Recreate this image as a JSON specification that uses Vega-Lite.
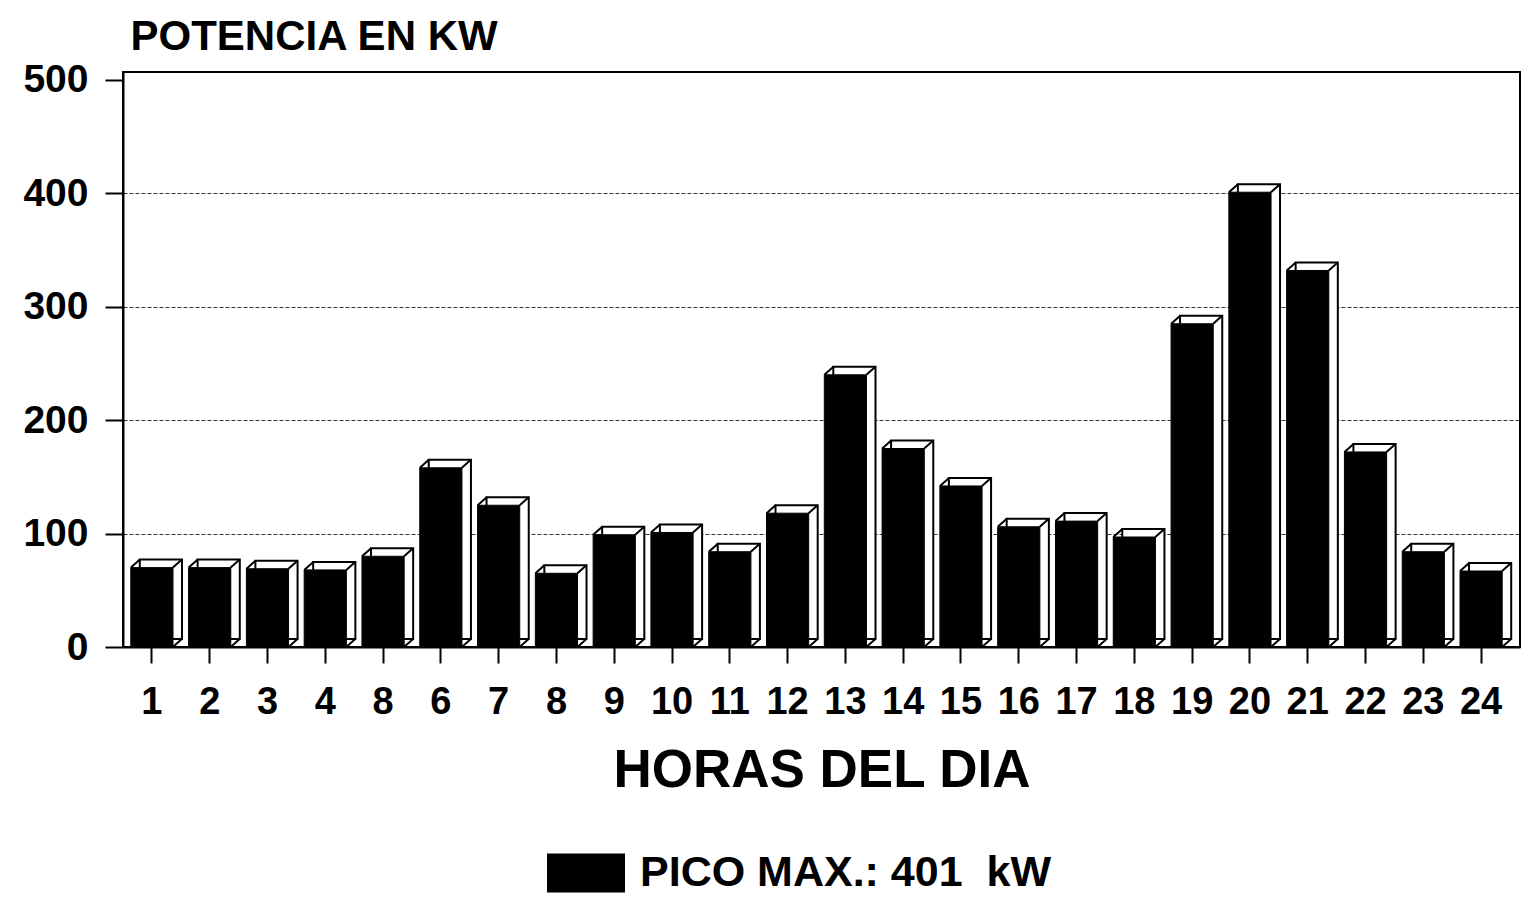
{
  "$schema": "https://vega.github.io/schema/vega-lite/v6.json",
  "width": 1397,
  "height": 575,
  "autosize": {"type": "none"},
  "padding": {"left": 123, "top": 72, "right": 7, "bottom": 254},
  "background": "white",
  "config": {
    "view": {"stroke": "black", "strokeWidth": 2},
    "font": "Liberation Sans"
  },
  "data": {
    "values": [
      {"hora": 1, "kw": 70}, {"hora": 2, "kw": 70}, {"hora": 3, "kw": 69}, {"hora": 4, "kw": 68},
      {"hora": 5, "kw": 80}, {"hora": 6, "kw": 158}, {"hora": 7, "kw": 125}, {"hora": 8, "kw": 65},
      {"hora": 9, "kw": 99}, {"hora": 10, "kw": 101}, {"hora": 11, "kw": 84}, {"hora": 12, "kw": 118},
      {"hora": 13, "kw": 240}, {"hora": 14, "kw": 175}, {"hora": 15, "kw": 142}, {"hora": 16, "kw": 106},
      {"hora": 17, "kw": 111}, {"hora": 18, "kw": 97}, {"hora": 19, "kw": 285}, {"hora": 20, "kw": 401},
      {"hora": 21, "kw": 332}, {"hora": 22, "kw": 172}, {"hora": 23, "kw": 84}, {"hora": 24, "kw": 67}
    ]
  },
  "encoding": {
    "x": {
      "field": "hora",
      "type": "ordinal",
      "scale": {"paddingInner": 0, "paddingOuter": 0.0865, "align": 0},
      "axis": {
        "title": "HORAS DEL DIA",
        "titleFont": "Liberation Sans",
        "titleFontSize": 53,
        "titleFontWeight": "bold",
        "titleColor": "black",
        "titleBaseline": "top",
        "titleY": 97,
        "labelExpr": "datum.value == 5 ? '8' : datum.label",
        "labelAngle": 0,
        "labelFont": "Liberation Sans",
        "labelFontSize": 38,
        "labelFontWeight": "bold",
        "labelColor": "black",
        "labelPadding": 20,
        "domainColor": "black",
        "domainWidth": 2,
        "tickColor": "black",
        "tickWidth": 2,
        "tickSize": 16,
        "grid": false
      }
    },
    "y": {
      "field": "kw",
      "type": "quantitative",
      "scale": {"domain": [0, 507], "nice": false},
      "axis": {
        "title": "POTENCIA EN KW",
        "titleAngle": 0,
        "titleAlign": "left",
        "titleBaseline": "top",
        "titleX": 7,
        "titleY": -56,
        "titleFont": "Liberation Sans",
        "titleFontSize": 42,
        "titleFontWeight": "bold",
        "titleColor": "black",
        "values": [0, 100, 200, 300, 400, 500],
        "labelFont": "Liberation Sans",
        "labelFontSize": 39,
        "labelFontWeight": "bold",
        "labelColor": "black",
        "labelPadding": 17,
        "domainColor": "black",
        "domainWidth": 2,
        "tickColor": "black",
        "tickWidth": 2,
        "tickSize": 18,
        "grid": true,
        "gridColor": "black",
        "gridWidth": 1,
        "gridDash": [4, 2],
        "gridOpacity": {"condition": {"test": "datum.value == 0 || datum.value == 500", "value": 0}, "value": 0.8}
      }
    }
  },
  "layer": [
    {
      "mark": {"type": "bar", "width": {"band": 0.73}, "xOffset": 9, "yOffset": -8, "fill": "white", "stroke": "black", "strokeWidth": 2}
    },
    {
      "mark": {"type": "bar", "width": {"band": 0.73}, "stroke": "black", "strokeWidth": 1},
      "encoding": {
        "color": {
          "datum": "PICO MAX.: 401\u00a0 kW",
          "scale": {"range": ["black"]},
          "legend": {
            "orient": "none",
            "legendX": 424,
            "legendY": 762,
            "title": null,
            "padding": 0,
            "symbolType": "M-1,-0.5H1V0.5H-1Z",
            "symbolSize": 6084,
            "symbolStrokeWidth": 0,
            "symbolOpacity": 1,
            "labelFont": "Liberation Sans",
            "labelFontSize": 43,
            "labelFontWeight": "bold",
            "labelColor": "black",
            "labelOffset": 15,
            "labelLimit": 0
          }
        }
      }
    },
    {
      "mark": {"type": "rule", "xOffset": -21, "x2Offset": -12, "y2Offset": -8, "stroke": "black", "strokeWidth": 2},
      "encoding": {"x2": {"field": "hora", "bandPosition": 0.5}, "y2": {"field": "kw"}}
    },
    {
      "mark": {"type": "rule", "xOffset": 21, "x2Offset": 30, "y2Offset": -8, "stroke": "black", "strokeWidth": 2},
      "encoding": {"x2": {"field": "hora", "bandPosition": 0.5}, "y2": {"field": "kw"}}
    },
    {
      "mark": {"type": "rule", "xOffset": 21, "x2Offset": 30, "y2Offset": -8, "stroke": "black", "strokeWidth": 2},
      "encoding": {"y": {"datum": 0, "type": "quantitative"}, "x2": {"field": "hora", "bandPosition": 0.5}, "y2": {"datum": 0}}
    }
  ]
}
